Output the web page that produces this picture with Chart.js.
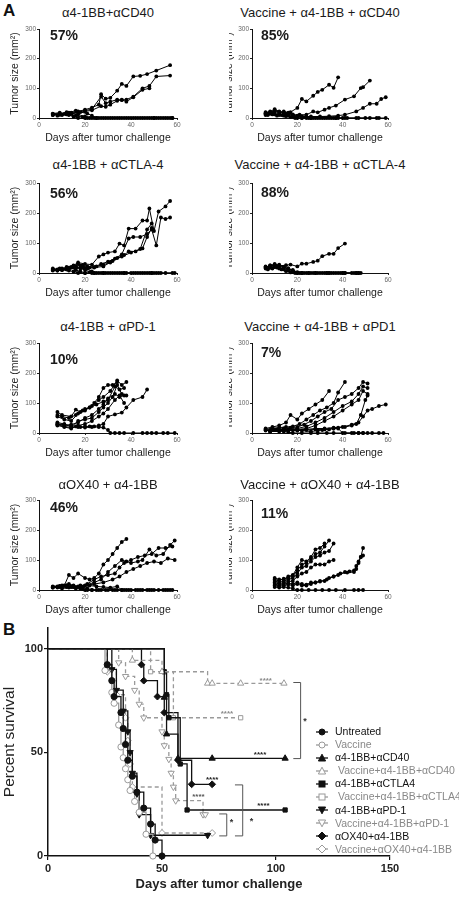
<!DOCTYPE html>
<html><head><meta charset="utf-8">
<script src="https://cdn.jsdelivr.net/npm/chart.js@4.4.1/dist/chart.umd.min.js"></script>
<style>
body{margin:0;width:459px;height:900px;position:relative;background:#fff;overflow:hidden;font-family:'Liberation Sans',Arial,sans-serif}
canvas{position:absolute}
.lab{position:absolute;font-weight:bold;font-size:17px;color:#111}
.ttl{position:absolute;width:240px;text-align:center;font-size:13px;line-height:16px;color:#1a1a1a;white-space:nowrap}
.pct{position:absolute;font-size:14px;font-weight:bold;line-height:16px;color:#1a1a1a}
.leg{position:absolute;left:316px;top:725px;font-size:10.5px;line-height:13.1px}
.leg div{height:13.1px;white-space:pre;position:relative}
.leg svg{position:absolute;left:0;top:1.5px}
.leg span{position:absolute;left:19px;top:0}
</style></head>
<body>
<div class="lab" style="left:3px;top:1px">A</div>
<div class="lab" style="left:3px;top:620px">B</div>
<script>
// ---------- DATA: tumor growth panels (each mouse = [day, size mm²]) ----------
const panelTitles = ['α4-1BB+αCD40','Vaccine + α4-1BB + αCD40','α4-1BB + αCTLA-4','Vaccine + α4-1BB + αCTLA-4','α4-1BB + αPD-1','Vaccine + α4-1BB + αPD1','αOX40 + α4-1BB','Vaccine + αOX40 + α4-1BB'];
const tumorFreeLabels = ['57%','85%','56%','88%','10%','7%','46%','11%'];
const tumorYTicks = [0,100,200,300];
const tumorXTicks = [0,20,40,60];

const miceCD40 = [
 [[6,14],[9,15],[12,16],[14,18],[17,22],[20,28],[23,35],[26,45],[27,80],[29,65],[31,68],[34,92],[36,115],[38,108],[41,140],[44,142],[47,148],[51,160],[57,178]],
 [[6,12],[9,13],[12,14],[14,16],[17,20],[20,25],[23,30],[27,72],[29,50],[31,55],[34,62],[36,60],[38,62],[41,72],[45,100],[48,108],[51,140],[57,143]],
 [[6,10],[9,11],[12,12],[14,14],[17,18],[20,22],[23,26],[27,40],[29,38],[31,45],[34,58],[36,62],[38,55],[41,70],[45,95],[48,100]],
 [[6,15],[9,18],[11,14],[13,10],[15,5],[17,0],[20,0],[23,0],[26,0],[30,0],[33,0],[37,0],[41,0],[44,0],[48,0],[50,0],[52,0],[55,0],[58,0]],
 [[6,10],[9,12],[12,20],[14,15],[17,12],[20,5],[22,0],[25,0],[28,0],[32,0],[36,0],[40,0],[45,0],[49,0],[53,0],[57,0]],
 [[8,8],[10,10],[13,12],[16,8],[19,3],[21,0],[24,0],[27,0],[31,0],[35,0],[39,0],[43,0],[47,0],[51,0],[56,0]],
 [[10,12],[13,18],[16,25],[18,20],[21,15],[23,8],[25,0],[29,0],[34,0],[38,0],[42,0],[46,0],[50,0],[54,0],[58,0]]
];
const miceVacCD40 = [
 [[6,15],[8,18],[10,25],[12,20],[14,18],[17,20],[20,34],[22,64],[24,56],[27,75],[29,88],[31,95],[34,112],[36,102],[38,137]],
 [[6,12],[9,15],[12,10],[15,12],[18,10],[21,11],[24,11],[27,22],[29,19],[32,28],[34,34],[37,42],[41,62],[45,73],[48,101],[49,104],[52,126]],
 [[6,10],[10,12],[14,8],[18,6],[22,5],[26,5],[30,5],[34,6],[38,8],[41,11],[46,22],[49,34],[52,48],[55,48],[57,64],[59,70]],
 [[6,18],[8,22],[10,30],[12,22],[14,18],[16,15],[18,10],[20,5],[22,0],[25,0],[28,0],[31,0],[34,0],[37,0],[40,0]],
 [[6,15],[8,20],[10,25],[12,20],[14,22],[16,18],[18,12],[20,8],[23,3],[26,0],[29,0],[33,0],[36,0],[42,0],[46,0],[50,0],[55,0],[59,0]],
 [[6,20],[8,15],[10,18],[12,15],[14,10],[16,8],[18,5],[20,0],[24,0],[27,0],[30,0],[35,0],[38,0]],
 [[7,10],[9,12],[11,8],[13,10],[15,6],[17,3],[19,0],[22,0],[26,0],[32,0],[37,0],[41,0],[47,0],[52,0],[56,0]]
];
const miceCTLA4 = [
 [[6,12],[9,13],[12,15],[15,25],[17,35],[20,30],[23,28],[26,55],[28,62],[30,68],[33,72],[35,98],[37,92],[39,148],[42,148],[45,175],[47,175],[48,215],[50,140],[52,205],[55,222],[57,240]],
 [[6,10],[10,12],[13,18],[16,22],[18,25],[21,22],[24,20],[27,30],[30,38],[33,48],[36,62],[39,115],[41,120],[44,120],[47,130],[49,145],[51,92],[53,185],[55,180],[57,185]],
 [[6,8],[10,10],[13,14],[16,18],[19,20],[22,18],[25,22],[28,28],[31,35],[34,50],[37,60],[39,72],[42,72],[45,82],[47,120],[49,150]],
 [[8,8],[12,12],[16,16],[20,15],[24,18],[28,22],[32,40],[36,55],[40,68],[44,80],[47,145],[49,165]],
 [[6,15],[8,12],[10,15],[12,20],[14,18],[16,10],[18,5],[20,0],[23,0],[26,0],[29,0],[32,0],[35,0],[38,0],[42,0],[46,0],[49,0],[52,0],[55,0],[59,0]],
 [[6,10],[9,15],[12,12],[14,20],[17,30],[19,25],[21,15],[23,5],[25,0],[28,0],[31,0],[34,0],[37,0],[41,0],[45,0],[48,0],[51,0]],
 [[8,8],[10,10],[13,8],[15,5],[17,0],[20,0],[24,0],[28,0],[33,0],[37,0],[40,0],[44,0],[47,0],[50,0]],
 [[10,12],[13,15],[16,20],[18,15],[20,10],[22,3],[24,0],[27,0],[30,0],[36,0],[43,0],[49,0],[53,0],[58,0]]
];
const miceVacCTLA4 = [
 [[6,20],[8,22],[10,28],[12,24],[15,26],[17,28],[20,22],[22,31],[24,31],[27,37],[29,41],[31,56],[34,64],[36,64],[38,83],[41,98]],
 [[6,18],[8,25],[10,30],[12,25],[14,20],[16,10],[18,5],[20,0],[22,0],[25,0],[28,0],[31,0],[34,0],[37,0],[40,0]],
 [[6,15],[8,20],[10,25],[12,22],[14,18],[16,15],[18,8],[21,0],[24,0],[27,0],[30,0],[33,0],[36,0],[39,0],[45,0],[47,0]],
 [[6,22],[8,18],[10,20],[12,15],[14,12],[16,8],[18,3],[20,0],[23,0],[26,0],[29,0],[32,0],[35,0],[38,0],[41,0],[44,0],[46,0],[48,0]],
 [[7,12],[9,15],[11,18],[13,12],[15,6],[17,2],[19,0],[22,0],[25,0],[33,0],[41,0],[47,0]],
 [[8,25],[10,22],[12,28],[14,20],[16,15],[18,10],[20,3],[22,0],[28,0],[34,0],[40,0],[46,0]]
];
const micePD1 = [
 [[8,70],[10,60],[14,55],[16,78],[18,70],[20,80],[22,85],[24,100],[26,120],[28,150],[30,160],[32,160],[34,170]],
 [[8,55],[11,45],[14,40],[17,65],[20,75],[23,90],[26,110],[28,120],[31,140],[34,175],[36,160],[38,170]],
 [[8,60],[10,55],[13,50],[16,60],[19,75],[22,85],[25,95],[28,105],[30,110],[33,155],[35,145],[37,150]],
 [[8,30],[11,25],[14,28],[17,35],[20,50],[23,60],[26,80],[28,95],[30,115],[33,130],[35,120],[37,125]],
 [[8,35],[11,30],[14,20],[17,40],[20,45],[23,50],[26,70],[28,85],[30,100],[32,120],[34,160],[36,130],[38,125]],
 [[8,25],[11,20],[14,15],[17,25],[20,30],[23,40],[26,55],[28,65],[30,80],[33,110],[35,125],[37,100]],
 [[8,28],[11,22],[14,18],[16,22],[18,20],[20,22],[22,22],[24,22],[26,25],[28,30],[30,55],[33,62],[36,68],[38,85],[41,110],[45,120],[47,145]],
 [[8,30],[11,28],[14,25],[17,20],[20,18],[23,20],[26,20],[28,18],[30,10],[31,0],[33,0],[35,0],[37,0],[41,0],[45,0],[47,0],[49,0],[51,0],[54,0],[56,0],[59,0]]
];
const miceVacPD1 = [
 [[6,15],[9,20],[12,25],[15,35],[17,60],[20,45],[22,65],[25,80],[28,95],[31,110],[34,140]],
 [[6,12],[9,15],[12,18],[15,20],[18,22],[21,30],[24,45],[27,60],[30,75],[33,85],[36,100],[38,135],[41,170]],
 [[8,10],[11,12],[14,15],[17,18],[20,20],[23,28],[26,40],[29,55],[32,70],[35,80],[38,110],[41,120],[44,130],[47,150],[49,170],[51,165]],
 [[8,8],[12,10],[16,12],[20,15],[24,22],[28,35],[32,50],[36,70],[40,90],[44,105],[47,130],[49,155],[51,150]],
 [[8,6],[12,8],[16,10],[20,12],[24,15],[28,25],[32,40],[36,55],[40,75],[44,95],[47,110],[49,140],[51,130]],
 [[8,5],[12,8],[16,10],[20,10],[24,12],[28,15],[32,15],[36,18],[40,20],[44,28],[47,35],[49,55],[51,75],[53,80],[56,90],[59,95]],
 [[8,5],[12,5],[16,8],[20,8],[24,10],[28,12],[32,12],[36,15],[38,18],[41,20],[44,25],[46,30],[48,60],[50,110],[51,125]],
 [[6,8],[10,10],[14,12],[18,10],[22,8],[26,5],[29,8],[31,10],[34,12],[36,15],[38,15],[40,0],[44,0],[47,0],[49,0]],
 [[6,10],[8,8],[10,12],[12,8],[14,5],[16,3],[18,0],[22,0],[26,0],[29,0],[33,0],[36,0],[41,0],[45,0],[47,0],[49,0],[51,0],[53,0],[56,0],[58,0]]
];
const miceOX40 = [
 [[6,12],[9,14],[11,15],[13,50],[15,40],[17,55],[20,40],[22,35],[24,40],[26,55],[28,85],[30,100],[32,120],[34,140],[36,160],[38,170]],
 [[6,10],[9,12],[12,15],[15,12],[18,15],[21,18],[24,25],[27,35],[30,60],[33,80],[36,100],[38,95],[40,90],[43,95],[45,100],[48,135],[51,115],[54,120],[57,150],[59,165]],
 [[6,8],[9,10],[12,12],[15,10],[18,12],[21,20],[24,35],[27,45],[30,50],[33,55],[35,75],[37,90],[40,100],[43,110],[46,115],[49,120],[52,140],[55,140],[58,145]],
 [[8,8],[12,10],[16,8],[20,15],[24,20],[28,25],[32,35],[35,45],[38,60],[41,70],[44,80],[47,90],[50,95],[53,90],[56,105],[59,100]],
 [[6,10],[9,12],[12,15],[14,10],[16,8],[18,5],[20,0],[23,0],[26,0],[30,0],[34,0],[37,0],[40,0],[44,0],[48,0],[52,0],[55,0],[58,0]],
 [[8,12],[10,15],[13,20],[15,15],[17,12],[19,10],[21,5],[23,0],[27,0],[32,0],[36,0],[42,0],[47,0],[54,0]],
 [[6,8],[10,10],[14,12],[18,10],[22,15],[25,12],[28,10],[31,8],[34,12],[36,0],[39,0],[45,0],[50,0],[57,0]],
 [[10,5],[13,8],[16,5],[19,3],[21,0],[25,0],[29,0],[33,0],[38,0],[43,0],[49,0],[56,0]]
];
const miceVacOX40 = [
 [[10,40],[12,35],[14,35],[16,45],[18,50],[20,75],[22,100],[24,95],[26,110],[28,135],[30,140],[32,155]],
 [[10,35],[12,30],[14,38],[16,40],[18,48],[20,65],[22,85],[24,90],[26,105],[28,120],[30,125],[32,145],[34,165]],
 [[10,30],[12,25],[14,30],[16,35],[18,40],[20,55],[22,75],[24,80],[26,95],[28,110],[30,115],[32,125],[34,130],[36,155]],
 [[10,25],[12,20],[14,25],[16,28],[18,30],[20,45],[22,55],[24,60],[26,75],[28,85],[30,85],[32,85],[34,95],[36,100]],
 [[10,20],[12,15],[14,20],[16,22],[18,20],[20,25],[22,20],[24,18],[26,25],[28,25],[30,30],[32,30],[34,40],[36,45],[38,50],[41,60],[43,62],[45,65],[46,70],[47,90],[48,110],[49,140]],
 [[10,15],[12,12],[14,15],[16,18],[18,15],[20,20],[22,15],[24,15],[26,20],[28,25],[30,28],[33,35],[36,45],[39,55],[42,58],[45,60],[46,80],[47,95],[48,110],[49,115]],
 [[10,10],[12,8],[14,10],[16,8],[18,5],[20,0],[22,0],[25,0],[28,0],[31,0],[34,0],[37,0],[41,0],[45,0],[47,0],[49,0]]
];
const panelMice = [miceCD40, miceVacCD40, miceCTLA4, miceVacCTLA4, micePD1, miceVacPD1, miceOX40, miceVacOX40];

// ---------- DATA: survival (Kaplan-Meier, [day, percent]) ----------
const survivalNames = ['Untreated','Vaccine','α4-1BB+αCD40',' Vaccine+α4-1BB+αCD40','α4-1BB+αCTLA4',' Vaccine+α4-1BB+αCTLA4','α4-1BB+αPD-1','Vaccine+α4-1BB+αPD-1','αOX40+α4-1BB','Vaccine+αOX40+α4-1BB'];
const survUntreated = [[0,100],[26,92.3],[28,84.6],[29,76.9],[32,69.2],[33,61.5],[34,53.8],[35,46.2],[37,38.5],[39,30.8],[42,23.1],[45,15.4],[47,7.7],[50,0]];
const survVaccine   = [[0,100],[25,89.5],[28,78.9],[29,73.7],[31,63.2],[32,52.6],[33,47.4],[34,42.1],[35,36.8],[36,31.6],[38,26.3],[40,21.1],[43,10.5],[46,0]];
const survCD40      = [[0,100],[51,76.5],[52,58.8],[57,47.1],[72,47.1],[104,47.1]];
const survVacCD40   = [[0,100],[37,94.4],[50,88.9],[70,83.3],[72,83.3],[84.5,83.3],[103.5,83.3]];
const survCTLA4     = [[0,100],[51,88.9],[52,77.8],[53,66.7],[58,44.4],[61,22.2],[104,22.2]];
const survVacCTLA4  = [[0,100],[45,88.9],[55,66.7],[84.5,66.7]];
const survPD1       = [[0,100],[28,90],[30,80],[33,70],[35,60],[36,50],[37,40],[39,30],[40,20],[45,10],[70,10]];
const survVacPD1    = [[0,100],[31,93.3],[34,86.7],[38,80],[40,73.3],[42,66.7],[50,60],[51,53.3],[53,46.7],[54,40],[55,33.3],[56,26.7],[68,20],[69,20]];
const survOX40      = [[0,100],[41,92.3],[42,84.6],[48,76.9],[51,69.2],[57,46.2],[63,34.6],[72,34.6]];
const survVacOX40   = [[0,100],[26,88.9],[30,77.8],[34,66.7],[35,55.6],[36,44.4],[37,33.3],[50,11.1],[72,11.1]];
const survivalSeries = [survUntreated, survVaccine, survCD40, survVacCD40, survCTLA4, survVacCTLA4, survPD1, survVacPD1, survOX40, survVacOX40];
const survivalXTicks = [0,50,100,150];
const survivalYTicks = [0,50,100];
// significance marks [day, percent]
const sigStarLabels = [[95.5,84.6,'****'],[78.5,68.8,'****'],[93,49,'****'],[72,36.6,'****'],[66,28.6,'****'],[94.5,24,'****']];
const sigBrackets = [[107.6,110.8,83.7,47],[82,85.4,34.3,9.7],[75.1,78.4,20.3,9.7]];
const sigBracketStars = [[112.7,65,'*'],[89.3,16.5,'*'],[80.5,16,'*']];

// ---------- STYLE / LAYOUT ----------
const BLACK = '#111', GRAY = '#9a9a9a';
const survStyles = [
 {shape:'circle', color:BLACK, fill:true,  dash:false},
 {shape:'circle', color:GRAY,  fill:false, dash:false},
 {shape:'triangle', color:BLACK, fill:true, dash:false},
 {shape:'triangle', color:GRAY, fill:false, dash:true},
 {shape:'rect', color:BLACK, fill:true, dash:false},
 {shape:'rect', color:GRAY, fill:false, dash:true},
 {shape:'triangleDown', color:BLACK, fill:true, dash:false},
 {shape:'triangleDown', color:GRAY, fill:false, dash:true},
 {shape:'rectRot', color:BLACK, fill:true, dash:false},
 {shape:'rectRot', color:GRAY, fill:false, dash:true}
];
const starColors = ['#8a8a8a','#8a8a8a','#222','#222','#555','#222'];
const rowPlotTop = [29,183,343,500];
const rowPlotH = [89,90,90,90];
const rowTitleY = [13,165,327,485];
const pctPos = [[50,35],[261,35],[50,193],[261,192],[50,359],[261,352],[50,507],[261,513]];

Chart.defaults.font.family = "'Liberation Sans', Arial, sans-serif";

function addDiv(cls, text, left, top){
  const d=document.createElement('div'); d.className=cls; d.textContent=text;
  d.style.left=left+'px'; d.style.top=top+'px'; document.body.appendChild(d); return d;
}

function makeTumorChart(idx){
  const col = idx % 2, row = Math.floor(idx/2);
  const left = col ? 229 : 0, width = col ? 230 : 229;
  const plotLeft = col ? 23 : 39, plotRight = col ? 159 : 177;
  const padTop = 8, xH = 26, plotH = rowPlotH[row];
  const height = padTop + plotH + xH;
  const cv = document.createElement('canvas');
  cv.width = width; cv.height = height;
  cv.style.left = left+'px'; cv.style.top = (rowPlotTop[row]-padTop)+'px';
  cv.style.width = width+'px'; cv.style.height = height+'px';
  document.body.appendChild(cv);
  const tickFont = {size:6.5};
  new Chart(cv, {
    type:'line',
    data:{datasets: panelMice[idx].map(m => ({
      data: m.map(([x,y]) => ({x,y})),
      borderColor:'#000', borderWidth:1, pointRadius:1.9, pointBackgroundColor:'#000',
      pointBorderWidth:0, tension:0, clip:false, fill:false
    }))},
    options:{
      responsive:false, animation:false, events:[],
      layout:{padding:{top:padTop, left:0, right:width-plotRight, bottom:0}},
      plugins:{legend:{display:false}, tooltip:{enabled:false}, title:{display:false}},
      scales:{
        x:{type:'linear', min:tumorXTicks[0], max:tumorXTicks[tumorXTicks.length-1],
           afterBuildTicks: s => { s.ticks = tumorXTicks.map(v => ({value:v})); },
           ticks:{font:tickFont, color:'#666', padding:1, maxRotation:0, autoSkip:false},
           grid:{display:true, drawOnChartArea:false, tickLength:2, color:'#222'},
           border:{display:true, color:'#111', width:1},
           title:{display:true, text:'Days after tumor challenge', font:{size:10.5}, color:'#222', padding:0},
           afterFit: s => { s.height = xH; }},
        y:{type:'linear', min:tumorYTicks[0], max:tumorYTicks[tumorYTicks.length-1],
           afterBuildTicks: s => { s.ticks = tumorYTicks.map(v => ({value:v})); },
           ticks:{font:tickFont, color:'#666', padding:1, autoSkip:false},
           grid:{display:true, drawOnChartArea:false, tickLength:2, color:'#222'},
           border:{display:true, color:'#111', width:1},
           title:{display:true, text:'Tumor size (mm²)', font:{size:10.5}, color:'#222', padding:{top: col ? -6 : 9, bottom:0}},
           afterFit: s => { s.width = plotLeft; }}
      }
    }
  });
  addDiv('ttl', panelTitles[idx], (col ? 320 : 108) - 120, rowTitleY[row] - 8);
  addDiv('pct', tumorFreeLabels[idx], pctPos[idx][0], pctPos[idx][1] - 8);
}
for (let i=0;i<8;i++) makeTumorChart(i);

// ---------- survival chart ----------
const sigPlugin = {
  id:'sig',
  afterDatasetsDraw(chart){
    const {ctx, scales:{x,y}} = chart;
    ctx.save();
    ctx.textAlign='center'; ctx.textBaseline='middle';
    ctx.font = "bold 8px 'Liberation Sans', Arial, sans-serif";
    sigStarLabels.forEach(([d,p,txt],i) => { ctx.fillStyle = starColors[i]; ctx.fillText(txt, x.getPixelForValue(d), y.getPixelForValue(p)); });
    ctx.strokeStyle='#555'; ctx.lineWidth=1;
    sigBrackets.forEach(([a,b,top,bot]) => {
      ctx.beginPath();
      ctx.moveTo(x.getPixelForValue(a), y.getPixelForValue(top));
      ctx.lineTo(x.getPixelForValue(b), y.getPixelForValue(top));
      ctx.lineTo(x.getPixelForValue(b), y.getPixelForValue(bot));
      ctx.lineTo(x.getPixelForValue(a), y.getPixelForValue(bot));
      ctx.stroke();
    });
    ctx.fillStyle='#333'; ctx.font = "bold 9px 'Liberation Sans', Arial, sans-serif";
    sigBracketStars.forEach(([d,p,txt]) => ctx.fillText(txt, x.getPixelForValue(d), y.getPixelForValue(p)));
    ctx.restore();
  }
};
(function(){
  const cv = document.createElement('canvas');
  const W=459, H=280, top=620;
  cv.width=W; cv.height=H; cv.style.left='0px'; cv.style.top=top+'px';
  cv.style.width=W+'px'; cv.style.height=H+'px';
  document.body.appendChild(cv);
  const padTop = 8, plotH = 228, yW = 48, plotRight = 390;
  const shapeMap = {circle:['circle',0], triangle:['triangle',0], triangleDown:['triangle',180], rect:['rect',0], rectRot:['rectRot',0]};
  const radius = {circle:3.1, triangle:3.6, triangleDown:3.6, rect:3.0, rectRot:3.4};
  new Chart(cv, {
    type:'line',
    data:{datasets: survivalSeries.map((s,i) => {
      const st = survStyles[i];
      return {
        label: survivalNames[i],
        data: s.map(([x,y]) => ({x,y})),
        stepped:'before', borderColor: st.color, borderWidth:1.3, borderDash: st.dash ? [4,3] : [],
        pointStyle: shapeMap[st.shape][0], rotation: shapeMap[st.shape][1],
        pointRadius: c => c.dataIndex === 0 ? 0 : radius[st.shape],
        pointBackgroundColor: st.fill ? st.color : '#fff', pointBorderColor: st.color, pointBorderWidth:1,
        clip:false, fill:false
      };
    })},
    options:{
      responsive:false, animation:false, events:[],
      layout:{padding:{top:padTop, left:0, right:W-plotRight, bottom:0}},
      plugins:{legend:{display:false}, tooltip:{enabled:false}},
      scales:{
        x:{type:'linear', min:0, max:150,
           afterBuildTicks: s => { s.ticks = survivalXTicks.map(v => ({value:v})); },
           ticks:{font:{size:11, weight:'bold'}, color:'#222', padding:2, maxRotation:0, autoSkip:false},
           grid:{display:true, drawOnChartArea:false, tickLength:4, color:'#111', lineWidth:1.2},
           border:{display:true, color:'#111', width:1.5},
           title:{display:true, text:'Days after tumor challenge', font:{size:13, weight:'bold'}, color:'#222', padding:{top:0,bottom:8}},
           afterFit: s => { s.height = H - padTop - plotH; }},
        y:{type:'linear', min:0, max:110,
           afterBuildTicks: s => { s.ticks = survivalYTicks.map(v => ({value:v})); },
           ticks:{font:{size:11, weight:'bold'}, color:'#222', padding:1, autoSkip:false},
           grid:{display:true, drawOnChartArea:false, tickLength:4, color:'#111', lineWidth:1.2},
           border:{display:true, color:'#111', width:1.5},
           title:{display:true, text:'Percent survival', font:{size:15.5}, color:'#222', padding:{top:0,bottom:0}},
           afterFit: s => { s.width = yW; }}
      }
    },
    plugins:[sigPlugin]
  });
})();

// ---------- legend ----------
function symbolSVG(st){
  const c = st.color, f = st.fill ? c : '#fff';
  let m = '';
  if (st.shape==='circle') m = `<circle cx="6" cy="5" r="3" fill="${f}" stroke="${c}" stroke-width="1"/>`;
  else if (st.shape==='triangle') m = `<polygon points="6,1.2 9.6,8 2.4,8" fill="${f}" stroke="${c}" stroke-width="1"/>`;
  else if (st.shape==='triangleDown') m = `<polygon points="2.4,2 9.6,2 6,8.8" fill="${f}" stroke="${c}" stroke-width="1"/>`;
  else if (st.shape==='rect') m = `<rect x="3" y="2" width="6" height="6" fill="${f}" stroke="${c}" stroke-width="1"/>`;
  else m = `<polygon points="6,1 10,5 6,9 2,5" fill="${f}" stroke="${c}" stroke-width="1"/>`;
  return `<svg width="12" height="10"><line x1="0" y1="5" x2="12" y2="5" stroke="${c}" stroke-width="1.3"/>${m}</svg>`;
}
const leg = document.createElement('div'); leg.className='leg';
survivalNames.forEach((n,i) => {
  const st = survStyles[i];
  const row = document.createElement('div');
  row.innerHTML = symbolSVG(st);
  const sp = document.createElement('span'); sp.textContent = n; sp.style.color = st.color === BLACK ? '#111' : '#888';
  row.appendChild(sp); leg.appendChild(row);
});
document.body.appendChild(leg);
</script>
</body></html>
